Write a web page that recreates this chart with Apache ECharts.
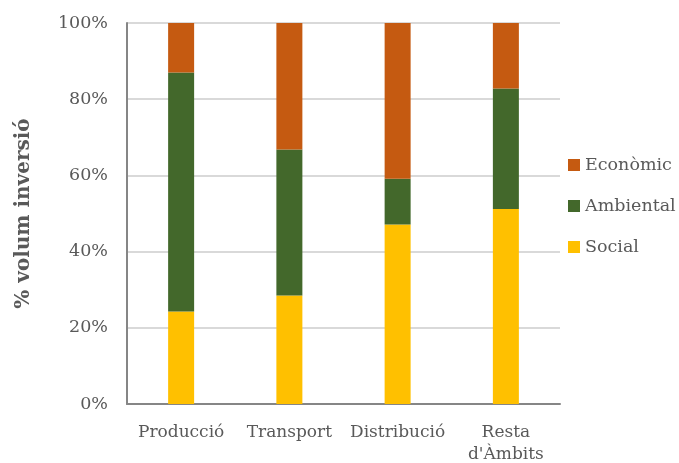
<!DOCTYPE html>
<html><head><meta charset="utf-8">
<script src="https://cdn.jsdelivr.net/npm/echarts@6/dist/echarts.min.js"></script>
<style>html,body{margin:0;padding:0;background:#fff}#c{width:679px;height:463px}</style>
</head><body><div id="c"></div>
<script>
const categories = ['Producció', 'Transport', 'Distribució', "Resta\nd'Àmbits"];
const social = [24.3, 28.5, 47.1, 51.2];
const ambiental = [62.7, 38.3, 12.0, 31.6];
const economic = [13.0, 33.2, 40.9, 17.2];
const yTicks = [0, 20, 40, 60, 80, 100];

const font = 'DejaVu Serif';
const chart = echarts.init(document.getElementById('c'));
chart.setOption({
  animation: false,
  textStyle: { fontFamily: font },
  grid: { left: 127, right: 119, top: 23, bottom: 59, containLabel: false, outerBoundsMode: 'none' },
  legend: {
    orient: 'vertical', left: 568, top: 155, padding: 0,
    data: ['Econòmic', 'Ambiental', 'Social'],
    itemWidth: 12, itemHeight: 12, itemGap: 21, icon: 'rect',
    textStyle: { fontFamily: font, fontSize: 17.5, color: '#595959', lineHeight: 20 }
  },
  xAxis: {
    type: 'category', data: categories,
    axisLine: { lineStyle: { color: '#868686', width: 2 } },
    axisTick: { show: false },
    axisLabel: { color: '#595959', fontSize: 17, fontFamily: font, margin: 18, lineHeight: 22, interval: 0 }
  },
  yAxis: {
    type: 'value', min: yTicks[0], max: yTicks[yTicks.length - 1], interval: 20,
    name: '% volum inversió', nameLocation: 'middle', nameGap: 93,
    nameTextStyle: { color: '#595959', fontSize: 20, fontWeight: 'bold', fontFamily: font },
    axisLine: { show: true, lineStyle: { color: '#868686', width: 2 } },
    axisTick: { show: false },
    axisLabel: { color: '#595959', fontSize: 17.5, fontFamily: font, margin: 19, formatter: v => v + '%' },
    splitLine: { lineStyle: { color: '#d9d9d9', width: 2 } }
  },
  series: [
    { name: 'Social', type: 'bar', stack: 't', data: social, barWidth: 26, itemStyle: { color: '#FFC000' } },
    { name: 'Ambiental', type: 'bar', stack: 't', data: ambiental, itemStyle: { color: '#43682B' } },
    { name: 'Econòmic', type: 'bar', stack: 't', data: economic, itemStyle: { color: '#C55A11' } }
  ]
});
</script></body></html>
